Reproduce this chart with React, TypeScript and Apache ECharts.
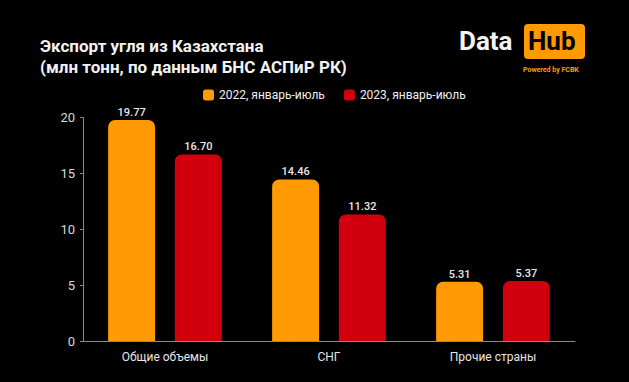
import React, { useEffect, useRef } from "react";
import * as echarts from "echarts";

const categories = ["Общие объемы", "СНГ", "Прочие страны"];
const series2022 = [19.77, 14.46, 5.31];
const series2023 = [16.7, 11.32, 5.37];
const seriesNames = ["2022, январь-июль", "2023, январь-июль"];
const titleLines = ["Экспорт угля из Казахстана", "(млн тонн, по данным БНС АСПиР РК)"];

export default function App() {
  const ref = useRef<HTMLDivElement>(null);
  useEffect(() => {
    if (!ref.current) return;
    const chart = echarts.init(ref.current, null, { renderer: "svg" });
    const labelCfg = {
      show: true,
      position: "top" as const,
      distance: 2,
      color: "#e8e8e8",
      fontFamily: "Roboto",
      fontSize: 11,
      fontWeight: 500,
      formatter: (p: any) => Number(p.value).toFixed(2),
    };
    chart.setOption({
      animation: false,
      backgroundColor: "#000000",
      title: {
        text: titleLines.join("\n"),
        left: 35,
        top: 30,
        textStyle: {
          color: "#f2f2f2",
          fontFamily: "Roboto",
          fontWeight: "bold",
          fontSize: 17,
          lineHeight: 21,
        },
      },
      legend: {
        data: seriesNames,
        top: 84,
        left: 198,
        itemWidth: 11,
        itemHeight: 11,
        itemGap: 19,
        icon: "roundRect",
        textStyle: { color: "#f0f0f0", fontFamily: "Roboto", fontSize: 12 },
      },
      grid: { left: 83, right: 54, top: 117.5, bottom: 41, containLabel: false },
      xAxis: {
        type: "category",
        data: categories,
        axisLine: { lineStyle: { color: "#8a8a8a", width: 1 } },
        axisTick: { alignWithLabel: true, length: 4, lineStyle: { color: "#8a8a8a" } },
        axisLabel: { color: "#e6e6e6", fontFamily: "Roboto", fontSize: 12, margin: 10 },
      },
      yAxis: {
        type: "value",
        min: 0,
        max: 20,
        interval: 5,
        axisLine: { show: true, lineStyle: { color: "#8a8a8a", width: 1 } },
        axisTick: { show: true, length: 3, lineStyle: { color: "#8a8a8a" } },
        splitLine: { show: false },
        axisLabel: { color: "#d8d8d8", fontFamily: "Roboto", fontSize: 13, margin: 8 },
      },
      series: [
        {
          name: seriesNames[0],
          type: "bar",
          data: series2022,
          barWidth: 47,
          barGap: "42%",
          itemStyle: { color: "#FF9A05", borderRadius: [7, 7, 0, 0] },
          label: labelCfg,
        },
        {
          name: seriesNames[1],
          type: "bar",
          data: series2023,
          barWidth: 47,
          itemStyle: { color: "#D2000F", borderRadius: [7, 7, 0, 0] },
          label: labelCfg,
        },
      ],
      graphic: [
        {
          type: "text",
          left: 459,
          top: 28,
          style: {
            text: "Data",
            fill: "#f4f4f4",
            font: "bold 26px Roboto",
          },
        },
        {
          type: "rect",
          shape: { x: 524, y: 24, width: 61, height: 35, r: 4 },
          style: { fill: "#FF9A05" },
        },
        {
          type: "text",
          left: 528,
          top: 28,
          style: {
            text: "Hub",
            fill: "#000000",
            font: "bold 26px Roboto",
          },
        },
        {
          type: "text",
          left: 523,
          top: 66,
          style: {
            text: "Powered by FCBK",
            fill: "#FF9A05",
            font: "bold 7px Roboto",
          },
        },
      ],
    });
    return () => chart.dispose();
  }, []);
  return (
    <div
      ref={ref}
      style={{ position: "absolute", left: 0, top: 0, width: 629, height: 382 }}
    />
  );
}
